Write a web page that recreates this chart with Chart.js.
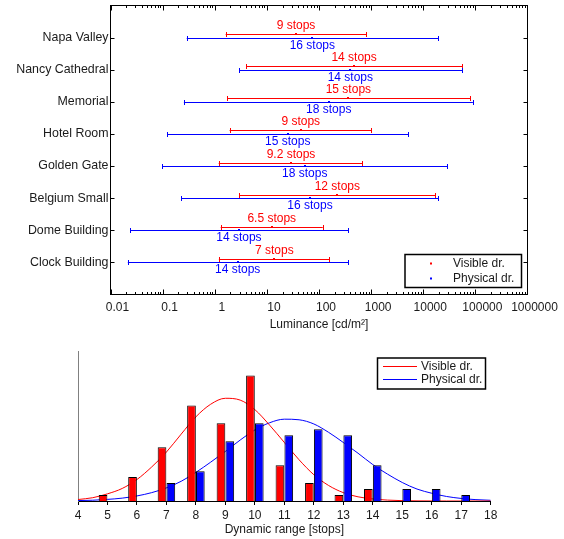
<!DOCTYPE html>
<html>
<head>
<meta charset="utf-8">
<script src="https://cdn.jsdelivr.net/npm/chart.js@4.4.1/dist/chart.umd.min.js"></script>
<style>
  body { margin: 0; background: #fff; }
  .panel { position: absolute; left: 0; }
</style>
</head>
<body>
<div class="panel" style="top:0"><canvas id="lumChart" width="564" height="345"></canvas></div>
<div class="panel" style="top:345px"><canvas id="rangeChart" width="564" height="194"></canvas></div>
<script>
// top panel: luminance ranges per scene
const places = ['Napa Valley', 'Nancy Cathedral', 'Memorial', 'Hotel Room', 'Golden Gate', 'Belgium Small', 'Dome Building', 'Clock Building'];
const visLow  = [1.62, 4.02, 1.73, 1.93, 1.19, 2.95, 1.30, 1.20];
const visHigh = [811, 55800, 80500, 1011, 679, 17100, 118, 158];
const visMid  = [36.2, 471, 366, 44.6, 29.0, 225, 12.4, 13.9];
const visStops = ['9 stops', '14 stops', '15 stops', '9 stops', '9.2 stops', '12 stops', '6.5 stops', '7 stops'];
const phyLow  = [0.29, 2.95, 0.256, 0.122, 0.098, 0.227, 0.0238, 0.0215];
const phyHigh = [19550, 55800, 89600, 5190, 29100, 19550, 366, 366];
const phyMid  = [74.5, 399, 154, 25.1, 53.2, 67.3, 2.91, 2.75];
const phyStops = ['16 stops', '14 stops', '18 stops', '15 stops', '18 stops', '16 stops', '14 stops', '14 stops'];
const lumTicks = [0.01, 0.1, 1, 10, 100, 1000, 10000, 100000, 1000000];
const lumLabels = ['0.01', '0.1', '1', '10', '100', '1000', '10000', '100000', '1000000'];

// bottom panel: histogram of dynamic range + fitted curves
const stopBins = [5, 6, 7, 8, 9, 10, 11, 12, 13, 14, 15, 16, 17];
const visCounts = [1, 4, 9, 16, 13, 21, 6, 3, 1, 2, null, null, null];
const phyCounts = [null, null, 3, 5, 10, 13, 11, 12, 11, 6, 2, 2, 1];
const curveX = [4, 4.5, 5, 5.5, 6, 6.5, 7, 7.5, 8, 8.5, 9, 9.5, 10, 10.5, 11, 11.5, 12, 12.5, 13, 13.5, 14, 14.5, 15, 15.5, 16, 16.5, 17, 17.5, 18];
const visCurve = [0.25, 0.55, 1.2, 2.1, 3.6, 5.7, 8.2, 11.2, 14.1, 16.2, 17.2, 16.9, 15.3, 12.7, 9.8, 6.9, 4.4, 2.6, 1.4, 0.7, 0.35, 0.15, 0.06, 0.02, 0.01, 0, 0, 0, 0];
const phyCurve = [0.07, 0.13, 0.27, 0.48, 0.85, 1.4, 2.2, 3.3, 4.8, 6.5, 8.3, 10.2, 11.9, 13.1, 13.7, 13.6, 12.9, 11.5, 9.8, 8.0, 6.1, 4.5, 3.1, 2.0, 1.3, 0.76, 0.43, 0.23, 0.12];
const stopTicks = [4, 5, 6, 7, 8, 9, 10, 11, 12, 13, 14, 15, 16, 17, 18];

const RED = '#ff0000', BLUE = '#0000ff', INK = '#1a1a1a';
const FONT = 'Liberation Sans, Arial, Helvetica, sans-serif';
Chart.defaults.font.family = FONT;
Chart.defaults.font.size = 12;
Chart.defaults.color = INK;

const lumSeries = [
  { low: visLow, high: visHigh, mid: visMid, text: visStops, color: RED, shift: -3.5, textShift: -8.7 },
  { low: phyLow, high: phyHigh, mid: phyMid, text: phyStops, color: BLUE, shift: 0, textShift: 6.7 }
];

const errorBars = {
  id: 'errorBars',
  afterDatasetsDraw(chart) {
    const { ctx, scales: { x, y } } = chart;
    ctx.save();
    ctx.font = '12px ' + FONT;
    ctx.textAlign = 'center';
    ctx.textBaseline = 'middle';
    lumSeries.forEach(s => {
      ctx.strokeStyle = s.color;
      ctx.fillStyle = s.color;
      ctx.lineWidth = 1;
      places.forEach((p, i) => {
        const yc = Math.round(y.getPixelForValue(i + 1) + s.shift) + 0.5;
        const x0 = x.getPixelForValue(s.low[i]);
        const x1 = x.getPixelForValue(s.high[i]);
        const xm = x.getPixelForValue(s.mid[i]);
        ctx.beginPath();
        ctx.moveTo(x0, yc); ctx.lineTo(x1, yc);
        ctx.moveTo(Math.round(x0) + 0.5, yc - 2.5); ctx.lineTo(Math.round(x0) + 0.5, yc + 2.5);
        ctx.moveTo(Math.round(x1) + 0.5, yc - 2.5); ctx.lineTo(Math.round(x1) + 0.5, yc + 2.5);
        ctx.stroke();
        ctx.fillRect(Math.round(xm) - 1, yc - 1.5, 2, 2);
        ctx.fillText(s.text[i], xm, yc + s.textShift);
      });
    });
    ctx.restore();
  },
  afterDraw(chart) {
    const { ctx, chartArea: a, scales: { x, y } } = chart;
    ctx.save();
    ctx.strokeStyle = '#000';
    ctx.lineWidth = 1;
    ctx.beginPath();
    // log ticks, inward on top and bottom
    for (let d = -2; d < 6; d++) {
      for (let m = 1; m < 10; m++) {
        const px = Math.round(x.getPixelForValue(m * Math.pow(10, d))) + 0.5;
        const len = m === 1 ? 5 : 2.5;
        ctx.moveTo(px, a.bottom); ctx.lineTo(px, a.bottom - len);
        ctx.moveTo(px, a.top); ctx.lineTo(px, a.top + len);
      }
    }
    places.forEach((p, i) => {
      const py = Math.round(y.getPixelForValue(i + 1)) + 0.5;
      ctx.moveTo(a.left, py); ctx.lineTo(a.left + 4, py);
      ctx.moveTo(a.right, py); ctx.lineTo(a.right - 4, py);
    });
    ctx.stroke();
    ctx.lineWidth = 1;
    ctx.strokeRect(a.left, a.top, a.right - a.left, a.bottom - a.top);

    // legend
    ctx.lineWidth = 1.5;
    ctx.strokeRect(405, 254.5, 116.5, 33);
    ctx.font = '12px ' + FONT;
    ctx.textBaseline = 'middle';
    ctx.textAlign = 'left';
    [['Visible dr.', RED, 263.5], ['Physical dr.', BLUE, 278.5]].forEach(([t, c, ly]) => {
      ctx.fillStyle = c;
      ctx.fillRect(430, ly - 1, 2, 2);
      ctx.fillStyle = INK;
      ctx.fillText(t, 453, ly);
    });
    ctx.restore();
  }
};

new Chart(document.getElementById('lumChart'), {
  type: 'scatter',
  data: {
    datasets: [
      { label: 'Visible dr.', data: places.map((p, i) => ({ x: visMid[i], y: i + 1 })), pointRadius: 0, backgroundColor: RED },
      { label: 'Physical dr.', data: places.map((p, i) => ({ x: phyMid[i], y: i + 1 })), pointRadius: 0, backgroundColor: BLUE }
    ]
  },
  options: {
    responsive: false,
    animation: false,
    events: [],
    layout: { padding: { left: 0, right: 36.5, top: 5.5, bottom: 0 } },
    plugins: { legend: { display: false }, tooltip: { enabled: false } },
    scales: {
      x: {
        type: 'logarithmic',
        min: 0.01,
        max: 1000000,
        afterBuildTicks: s => { s.ticks = lumTicks.map(v => ({ value: v })); },
        afterFit: s => { s.height = 50.5; s.paddingLeft = 0; s.paddingRight = 0; },
        ticks: { autoSkip: false, maxRotation: 0, padding: 6, labelOffset: 7, color: INK,
          callback: (v, i) => lumLabels[i] },
        grid: { display: false, drawTicks: false },
        border: { display: false },
        title: { display: true, text: 'Luminance [cd/m²]', color: INK, font: { size: 12 }, padding: { top: 0, bottom: 13 } }
      },
      y: {
        type: 'linear',
        min: 0,
        max: 9,
        reverse: true,
        afterBuildTicks: s => { s.ticks = places.map((p, i) => ({ value: i + 1 })); },
        afterFit: s => { s.width = 110.5; s.paddingTop = 0; s.paddingBottom = 0; },
        ticks: { autoSkip: false, padding: 2, color: INK, font: { size: 12.4 },
          callback: v => places[v - 1] },
        grid: { display: false, drawTicks: false },
        border: { display: false }
      }
    }
  },
  plugins: [errorBars]
});

const rangeLegend = {
  id: 'rangeLegend',
  afterDraw(chart) {
    const { ctx } = chart;
    ctx.save();
    ctx.fillStyle = '#fff';
    ctx.fillRect(377.5, 13, 108, 31);
    ctx.strokeStyle = '#000';
    ctx.lineWidth = 1.5;
    ctx.strokeRect(377.5, 13, 108, 31);
    ctx.font = '12px ' + FONT;
    ctx.textBaseline = 'middle';
    ctx.textAlign = 'left';
    ctx.lineWidth = 1;
    [['Visible dr.', RED, 21.5], ['Physical dr.', BLUE, 34.5]].forEach(([t, c, ly]) => {
      ctx.strokeStyle = c;
      ctx.beginPath();
      ctx.moveTo(383, ly); ctx.lineTo(417, ly);
      ctx.stroke();
      ctx.fillStyle = INK;
      ctx.fillText(t, 421, ly);
    });
    ctx.restore();
  }
};

new Chart(document.getElementById('rangeChart'), {
  type: 'bar',
  data: {
    datasets: [
      { type: 'bar', label: 'Visible dr.', data: stopBins.map((b, i) => ({ x: b, y: visCounts[i] })),
        backgroundColor: RED, borderColor: '#000', borderWidth: 1, order: 1,
        categoryPercentage: 0.6, barPercentage: 0.98 },
      { type: 'bar', label: 'Physical dr.', data: stopBins.map((b, i) => ({ x: b, y: phyCounts[i] })),
        backgroundColor: BLUE, borderColor: '#000', borderWidth: 1, order: 1,
        categoryPercentage: 0.6, barPercentage: 0.98 },
      { type: 'line', label: 'Visible fit', data: curveX.map((v, i) => ({ x: v, y: visCurve[i] })),
        borderColor: RED, borderWidth: 1, pointRadius: 0, cubicInterpolationMode: 'monotone', order: 2 },
      { type: 'line', label: 'Physical fit', data: curveX.map((v, i) => ({ x: v, y: phyCurve[i] })),
        borderColor: BLUE, borderWidth: 1, pointRadius: 0, cubicInterpolationMode: 'monotone', order: 2 }
    ]
  },
  options: {
    responsive: false,
    animation: false,
    events: [],
    layout: { padding: { left: 78, right: 73.3, top: 6.7, bottom: 0 } },
    plugins: { legend: { display: false }, tooltip: { enabled: false } },
    scales: {
      x: {
        type: 'linear',
        min: 4,
        max: 18,
        offset: false,
        afterBuildTicks: s => { s.ticks = stopTicks.map(v => ({ value: v })); },
        afterFit: s => { s.height = 38; s.paddingLeft = 0; s.paddingRight = 0; },
        ticks: { autoSkip: false, maxRotation: 0, padding: 3, color: INK },
        grid: { offset: false, drawOnChartArea: false, tickLength: 4, color: '#000' },
        border: { color: '#000', width: 1 },
        title: { display: true, text: 'Dynamic range [stops]', color: INK, font: { size: 12 }, padding: { top: 0, bottom: 2 } }
      },
      y: {
        min: 0,
        max: 25,
        afterFit: s => { s.width = 0; s.paddingTop = 0; s.paddingBottom = 0; },
        ticks: { display: false },
        grid: { display: false },
        border: { color: '#808080', width: 1 }
      }
    }
  },
  plugins: [rangeLegend]
});
</script>
</body>
</html>
